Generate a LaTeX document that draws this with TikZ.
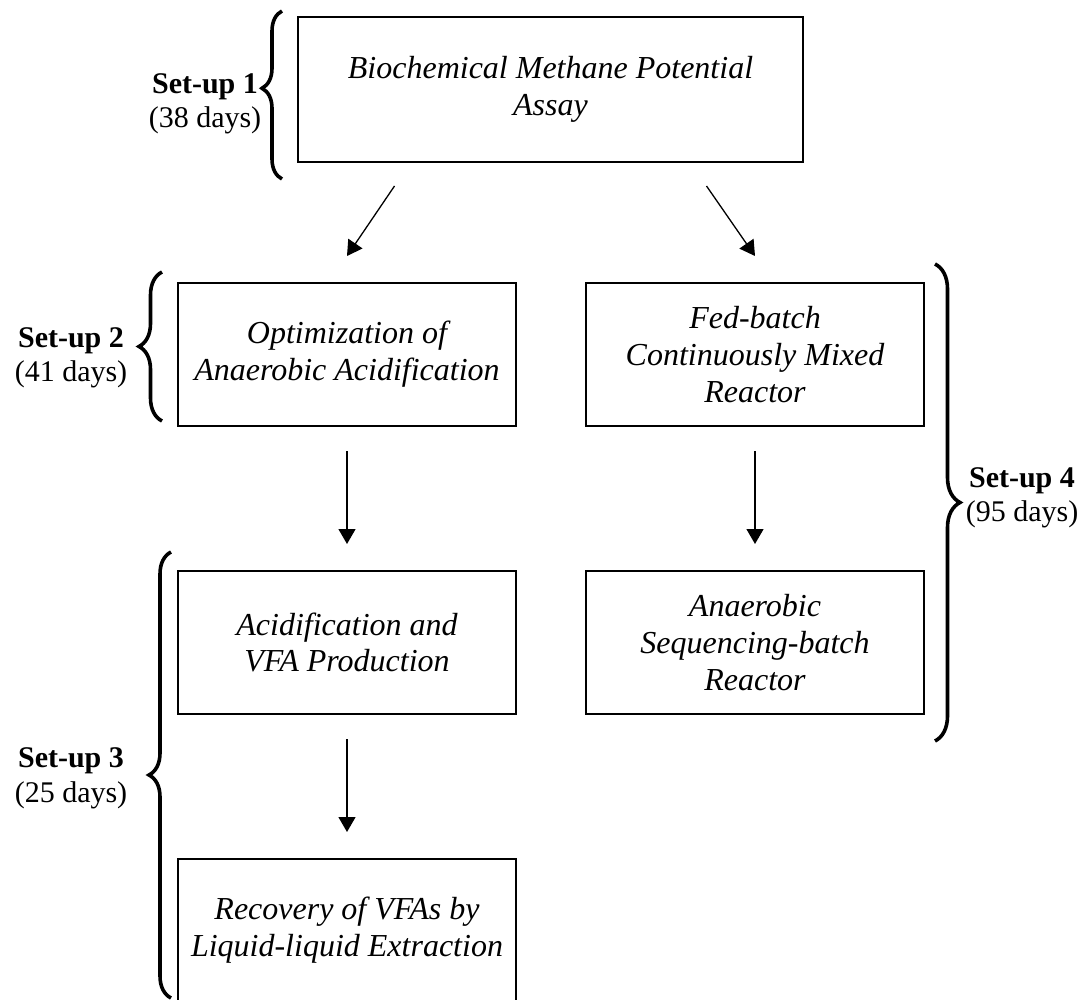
\documentclass[tikz,border=0pt]{standalone}
\usepackage{fontspec}
\setmainfont{Liberation Serif}
\usetikzlibrary{arrows.meta,decorations.pathreplacing}

\begin{document}
\begin{tikzpicture}[x=0.5pt, y=-0.5pt, node distance=144pt,
  stage/.style={rectangle, draw, line width=1pt, minimum width=169pt, minimum height=71.5pt, inner sep=0pt, align=center, font=\fontsize{16}{18.4}\selectfont\itshape},
  flow/.style={-{Triangle[length=7.5pt,width=8.5pt]}, line width=0.65pt},
  setbrace/.style={decorate, decoration={brace, amplitude=11pt}, line width=1.8pt},
  setlabel/.style={align=center, inner sep=0pt, font=\fontsize{15}{17.3}\selectfont}]

    \useasboundingbox (0,0) rectangle (1092,1000);

    \node[stage, minimum width=252.5pt, minimum height=72.5pt] (bmp) at (550.5,89.5) {Biochemical Methane Potential\\Assay};
    \node[stage] (opt) at (347,354.5) {Optimization of\\Anaerobic Acidification};
    \node[stage, right of=opt, node distance=204pt] (fed) {Fed-batch\\Continuously Mixed\\Reactor};
    \node[stage, below of=opt] (acid) {Acidification and\\VFA Production};
    \node[stage, below of=fed] (asbr) {Anaerobic\\Sequencing-batch\\Reactor};
    \node[stage, below of=acid] (rec) {Recovery of VFAs by\\Liquid-liquid Extraction};

    \draw[flow] ([xshift=-78pt, yshift=-11.5pt]bmp.south) -- ([yshift=13pt]opt.north);
    \draw[flow] ([xshift=78pt, yshift=-11.5pt]bmp.south) -- ([yshift=13pt]fed.north);
    \draw[flow] ([yshift=-12pt]opt.south) -- ([yshift=13pt]acid.north);
    \draw[flow] ([yshift=-12pt]fed.south) -- ([yshift=13pt]asbr.north);
    \draw[flow] ([yshift=-12pt]acid.south) -- ([yshift=13pt]rec.north);

    \draw[setbrace, decoration={amplitude=10pt, aspect=0.54}] ([xshift=-7.5pt, yshift=-8pt]bmp.south west) -- ([xshift=-7.5pt, yshift=2.5pt]bmp.north west);
    \draw[setbrace, decoration={amplitude=11.5pt}] ([xshift=-7.5pt, yshift=3pt]opt.south west) -- ([xshift=-7.5pt, yshift=5pt]opt.north west);
    \draw[setbrace] ([xshift=-3pt, yshift=2.5pt]rec.south west) -- ([xshift=-3pt, yshift=9pt]acid.north west);
    \draw[setbrace, decoration={amplitude=12.5pt}] ([xshift=5pt, yshift=9pt]fed.north east) -- ([xshift=5pt, yshift=-13pt]asbr.south east);

    \node[setlabel] (lab1) at (205,104) {\textbf{Set-up 1}\\(38 days)};
    \node[setlabel] (lab2) at (71,358) {\textbf{Set-up 2}\\(41 days)};
    \node[setlabel] (lab3) at (71,778) {\textbf{Set-up 3}\\(25 days)};
    \node[setlabel] (lab4) at (1022,498) {\textbf{Set-up 4}\\(95 days)};
  \end{tikzpicture}
\end{document}
